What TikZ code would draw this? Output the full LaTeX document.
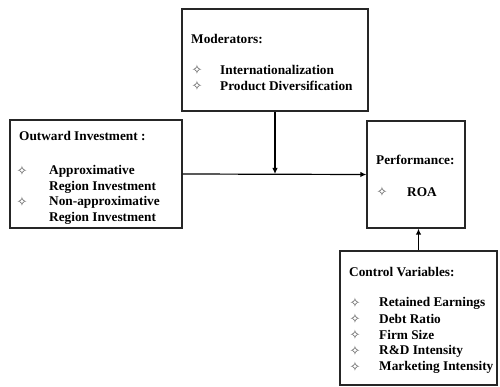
\documentclass[tikz,border=0pt]{standalone}
\usepackage{fontspec}
\setmainfont{Liberation Serif}
\newfontfamily\symfont{DejaVu Sans}
\usetikzlibrary{arrows.meta}
\newcommand{\dmd}{{\symfont\fontsize{13}{13}\selectfont\textcolor{black!70}{✧}}}
\tikzset{
  box/.style={draw=black!85, line width=1.2pt, fill=white, inner sep=0pt},
  lbl/.style={anchor=west, inner sep=0pt, font=\fontsize{13.3}{14}\selectfont\bfseries, text=black},
  bullet/.style={anchor=center, inner sep=0pt},
  arr/.style={draw=black, line width=1.2pt, -{Latex[length=6pt,width=5.5pt]}}
}
\begin{document}
\begin{tikzpicture}[x=1pt,y=-1pt]
\useasboundingbox (0,0) rectangle (500,387);

% boxes
\node[box, minimum width=186pt, minimum height=102pt] (mod) at (275,60) {};
\node[box, minimum width=172pt, minimum height=108pt] (out) at (96,174) {};
\node[box, minimum width=98pt, minimum height=107pt] (perf) at (416,174.5) {};
\node[box, minimum width=157pt, minimum height=134pt] (ctrl) at (418.5,318) {};

% moderators
\node[lbl] (modt) at (191,39) {Moderators:};
\node[bullet] (modm1) at (197,70) {\dmd};
\node[lbl] (mod1) at (220,70) {Internationalization};
\node[bullet] (modm2) at (197,86) {\dmd};
\node[lbl] (mod2) at (220,86) {Product Diversification};

% outward investment
\node[lbl] (outt) at (19,136) {Outward Investment :};
\node[bullet] (outm1) at (22,171) {\dmd};
\node[lbl] (out1a) at (49,171) {Approximative};
\node[lbl] (out1b) at (49,187) {Region Investment};
\node[bullet] (outm2) at (22,202) {\dmd};
\node[lbl] (out2a) at (49,202) {Non-approximative};
\node[lbl] (out2b) at (49,218) {Region Investment};

% performance
\node[lbl] (perft) at (376,160) {Performance:};
\node[bullet] (perfm) at (382,192) {\dmd};
\node[lbl] (perf1) at (407,192) {ROA};

% control variables
\node[lbl] (ctrlt) at (349,272) {Control Variables:};
\foreach \t [count=\i] in {Retained Earnings, Debt Ratio, Firm Size, R\&D Intensity, Marketing Intensity} {
  \node[bullet] (ctrlm\i) at (355,287+16*\i) {\dmd};
  \node[lbl] (ctrl\i) at (379,287+16*\i) {\t};
}

% connectors
\draw[arr] (out.east) -- (perf.west);
\draw[arr] (mod.south) -- (mod.south |- out.east);
\draw[arr] (ctrl.north) -- (ctrl.north |- perf.south);
\end{tikzpicture}
\end{document}
